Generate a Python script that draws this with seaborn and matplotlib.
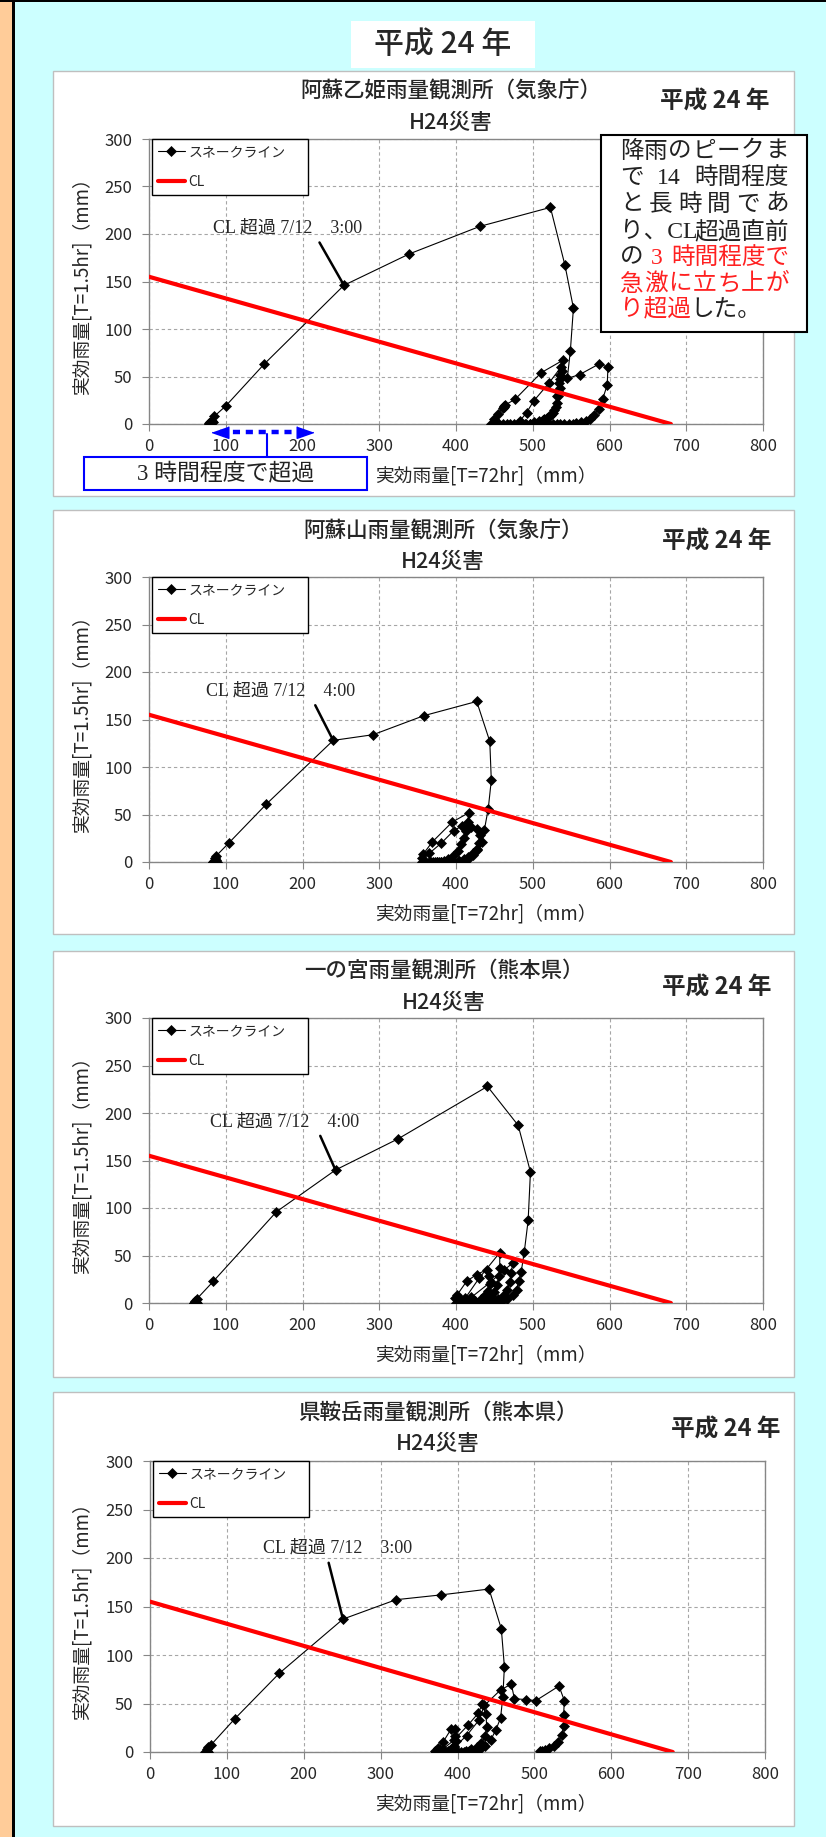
import re
import matplotlib
matplotlib.use("Agg")
import matplotlib.pyplot as plt
import seaborn as sns
from matplotlib.patches import Rectangle
from matplotlib.lines import Line2D

# ---------------- data ----------------
page_title = "平成 24 年"
event_label = "H24災害"
snake_label = "スネークライン"
cl_label = "CL"
x_label = "実効雨量[T=72hr]（mm）"
y_label = "実効雨量[T=1.5hr]（mm）"

x_ticks = [0, 100, 200, 300, 400, 500, 600, 700, 800]
y_ticks = [0, 50, 100, 150, 200, 250, 300]

# critical line, common to all stations
cl_x = [0, 680]
cl_y = [155, 0]

station_names = [
    "阿蘇乙姫雨量観測所（気象庁）",
    "阿蘇山雨量観測所（気象庁）",
    "一の宮雨量観測所（熊本県）",
    "県鞍岳雨量観測所（熊本県）",
]
exceed_notes = [
    "CL 超過 7/12\u30003:00",
    "CL 超過 7/12\u30004:00",
    "CL 超過 7/12\u30004:00",
    "CL 超過 7/12\u30003:00",
]

# snake lines: x = 72hr effective rainfall, y = 1.5hr effective rainfall (hourly, in time order)
otohime_x = [79, 78, 78, 79, 80, 81, 82, 83, 85, 100, 150, 254, 339, 431, 523, 542, 553, 549, 545,
             561, 586, 598, 597, 591, 586, 580, 575, 569, 563, 557, 552, 547,
             541, 536, 531, 526, 521, 516, 511, 506, 501, 496, 491, 486, 481, 476, 471, 466, 461, 456, 451, 447, 445,
             449, 455, 461, 463, 462, 464, 477, 511, 539, 538, 536, 535, 533, 531, 528, 524, 519, 514, 508, 502,
             496, 490, 485, 481,
             483, 492, 501, 521, 537, 536, 534, 533, 532, 530, 526, 521, 515, 508, 501]
otohime_y = [0, 0, 1, 1, 2, 1, 3, 2, 8, 19, 63, 146, 179, 208, 228, 167, 122, 77, 48,
             52, 63, 60, 41, 26, 16, 10, 5, 3, 2, 1, 0.5, 0.3,
             0, 0, 0, 0, 0, 0, 0, 0, 0, 0, 0, 0, 0, 0, 0, 0, 0, 0, 0, 0, 0,
             5, 11, 17, 19, 18, 20, 26, 54, 67, 56, 47, 38, 30, 22, 15, 10, 6, 4, 2, 1,
             0.5, 0.3, 0, 0,
             3, 12, 24, 43, 60, 52, 43, 35, 29, 18, 12, 8, 5, 3, 2]

asosan_x = [84, 83, 85, 86, 87, 88, 86, 87, 104, 153, 240, 292, 358, 427, 444, 446, 442, 437, 434, 428, 422,
            416, 410, 404, 398, 392, 386, 380, 375, 370, 365, 360, 356,
            356, 357, 369, 395, 417, 415, 413, 410, 407, 402, 396, 390, 384, 378, 373, 368,
            365, 381, 397, 408, 419, 427, 431, 430, 427, 422, 416, 410, 404, 398, 392, 386, 380, 375]
asosan_y = [0, 0, 1, 0, 2, 0, 4, 6, 20, 61, 128, 134, 154, 169, 127, 86, 56, 34, 21, 13, 7,
            3.5, 2, 1, 0.5, 0.3, 0, 0, 0, 0, 0, 0, 0,
            4, 8, 21, 42, 52, 42, 33, 25, 19, 12, 6, 3, 1.5, 0.5, 0, 0,
            9, 20, 33, 38, 37, 35, 28, 20, 14, 9, 5, 3, 1.5, 0.5, 0, 0, 0, 0]

ichinomiya_x = [58, 59, 60, 61, 62, 60, 62, 84, 166, 243, 325, 441, 481, 497, 494, 489, 485, 482, 479, 474,
                467, 460, 453, 446, 439, 432, 426, 420, 414, 408, 403, 400,
                399, 401, 414, 427, 440, 443, 444, 442, 438, 432, 425, 418, 412, 407, 404,
                405, 412, 430, 457, 457, 456, 454, 450, 445, 438, 431, 424, 418, 413,
                420, 445, 463, 474, 472, 470, 467, 462, 455, 448, 441, 434, 428]
ichinomiya_y = [0, 0, 0.5, 1, 0, 2, 4, 23, 96, 140, 173, 228, 187, 138, 87, 54, 33, 23, 14, 8,
                4, 2, 1, 0.5, 0.3, 0, 0, 0, 0, 0, 0, 0,
                5, 8, 23, 30, 35, 28, 20, 13, 8, 4, 2, 1, 0.5, 0, 0,
                4, 5, 26, 53, 37, 28, 19, 12, 7, 3.5, 1.5, 0.5, 0, 0,
                6, 22, 35, 42, 32, 22, 14, 8, 4, 2, 1, 0.3, 0]

kuradake_x = [72, 73, 74, 75, 74, 76, 79, 110, 168, 251, 320, 379, 441, 457, 461, 459, 456, 450, 443, 436,
              429, 422, 415, 408, 401, 394, 388, 382, 377, 372,
              371, 375, 381, 392, 397, 397, 398, 396, 392, 387, 382, 378,
              381, 395, 414, 427, 432, 437, 438, 436, 431, 425, 418, 411, 404, 398, 393,
              396, 412, 428, 435, 456, 470, 474, 489, 502, 532, 539, 538, 538, 536, 531, 525, 519, 514, 510, 507]
kuradake_y = [0, 0, 1, 0, 3, 5, 7, 34, 81, 137, 157, 162, 168, 127, 88, 57, 35, 23, 12, 6,
              3, 1.5, 1, 0.5, 0.3, 0, 0, 0, 0, 0,
              1, 4, 10, 24, 24, 17, 11, 6, 3, 1.5, 0.5, 0,
              3, 12, 28, 40, 49, 39, 26, 16, 9, 5, 3, 1.5, 0.5, 0, 0,
              5, 17, 33, 48, 64, 70, 55, 54, 53, 68, 53, 38, 27, 18, 10, 6, 4, 2.5, 1.5, 1]

# rise before exceedance at 阿蘇乙姫 (72hr rainfall range)
rise_span = (82, 214)
rise_caption = "3 時間程度で超過"

# commentary box; text in {braces} is highlighted in red
note_text = [
    "降雨のピークま",
    "で 14 時間程度",
    "と 長 時 間 で あ",
    "り、CL 超過直前",
    "の {3} {時間程度で}",
    "{急激に立ち上が}",
    "{り超過}した。",
]

# ---------------- style ----------------
sns.set_style("white")
plt.rcParams["font.family"] = ["Noto Sans CJK JP", "DejaVu Sans"]
plt.rcParams["axes.unicode_minus"] = False
SERIF = ["Liberation Serif", "Noto Sans CJK JP"]

W, H = 826, 1837
fig = plt.figure(figsize=(W / 100, H / 100), dpi=100)
fig.patch.set_facecolor("#CCFFFF")


def fx(x):
    return x / W


def fy(y):
    return 1 - y / H


def page_box(x0, y0, x1, y1, **kw):
    r = Rectangle((fx(x0), fy(y1)), (x1 - x0) / W, (y1 - y0) / H,
                  transform=fig.transFigure, **kw)
    fig.add_artist(r)
    return r


# page frame
page_box(0, 2, 12, H, facecolor="#FFCC99", edgecolor="none", zorder=-20)
page_box(12, 0, 15, H, facecolor="black", edgecolor="none", zorder=-19)
page_box(0, 0, W, 2, facecolor="black", edgecolor="none", zorder=-19)
page_box(351, 21, 535, 68, facecolor="white", edgecolor="none", zorder=-18)
fig.text(fx(443), fy(45), page_title, ha="center", va="center", fontsize=21.5, fontweight="medium")

layout = [
    dict(box=(53, 71, 794, 496), axes=(149, 139, 763, 424), title_x=451, year_x=715, year_dy=31,
         note_xy=(181, 206), note_rel=0.69),
    dict(box=(53, 510, 794, 934), axes=(149, 577, 763, 862), title_x=443, year_x=717, year_dy=32,
         note_xy=(172, 180), note_rel=0.71),
    dict(box=(53, 951, 794, 1377), axes=(149, 1018, 763, 1303), title_x=444, year_x=717, year_dy=37,
         note_xy=(177, 191), note_rel=0.72),
    dict(box=(53, 1392, 794, 1826), axes=(150, 1461, 765, 1752), title_x=438, year_x=726, year_dy=38,
         note_xy=(244, 210), note_rel=0.43),
]

series = [(otohime_x, otohime_y), (asosan_x, asosan_y),
          (ichinomiya_x, ichinomiya_y), (kuradake_x, kuradake_y)]


def cl_value(x):
    return cl_y[0] + (cl_y[1] - cl_y[0]) * (x - cl_x[0]) / (cl_x[1] - cl_x[0])


axes_list = []
for lay, name, note, (sx, sy) in zip(layout, station_names, exceed_notes, series):
    bx0, by0, bx1, by1 = lay["box"]
    page_box(bx0, by0, bx1, by1, facecolor="white", edgecolor="#BFBFBF", lw=1, zorder=-10)
    l, t, r, b = lay["axes"]
    aw, ah = r - l, b - t
    ax = fig.add_axes([fx(l), fy(b), aw / W, ah / H])
    axes_list.append(ax)

    sns.lineplot(x=sx, y=sy, sort=False, estimator=None, ax=ax, color="black",
                 linewidth=0.8, marker="D", markersize=5, markeredgecolor="black",
                 markeredgewidth=0.5, label=snake_label, zorder=3)
    sns.lineplot(x=cl_x, y=cl_y, ax=ax, color="#FF0000", linewidth=3,
                 label=cl_label, zorder=4)

    ax.set_xlim(0, 800)
    ax.set_ylim(0, 300)
    ax.set_xticks(x_ticks)
    ax.set_yticks(y_ticks)
    ax.grid(True, color="#A6A6A6", linestyle=(0, (3, 2.5)), linewidth=0.8)
    ax.set_axisbelow(True)
    for s in ax.spines.values():
        s.set_color("#868686")
        s.set_linewidth(1)
    ax.tick_params(axis="both", direction="out", length=5, width=0.8, color="#868686",
                   labelsize=12, bottom=True, left=True)
    ax.tick_params(axis="x", pad=5)
    ax.tick_params(axis="y", pad=7)
    ax.set_xlabel(x_label, fontsize=13.5, va="center")
    ax.xaxis.set_label_coords((486 - l) / aw, -52 / ah)
    ax.set_ylabel(y_label, fontsize=13.5, va="center")
    ax.yaxis.set_label_coords((82 - l) / aw, 0.5)

    leg = ax.legend(loc="upper left", bbox_to_anchor=(3 / aw, 0, 156 / aw, 1.0),
                    mode="expand", borderaxespad=0,
                    fancybox=False, framealpha=1, edgecolor="black", fontsize=10,
                    handlelength=1.9, handletextpad=0.25, labelspacing=1.15, borderpad=0.45)
    leg.get_frame().set_linewidth(1.0)

    # first hour above the critical line
    k = next(i for i, (xv, yv) in enumerate(zip(sx, sy)) if yv > cl_value(xv))
    ax.annotate(note, xy=(sx[k], sy[k]), xytext=lay["note_xy"], textcoords="data",
                ha="center", va="center", fontsize=13, family=SERIF, zorder=5,
                arrowprops=dict(arrowstyle="-", color="black", lw=1.8,
                                relpos=(lay["note_rel"], 0.0), shrinkA=2, shrinkB=0))

    fig.text(fx(lay["title_x"]), fy(by0 + 21), name, ha="center", va="center",
             fontsize=15.5, fontweight="medium")
    fig.text(fx(lay["title_x"]), fy(by0 + 52), event_label, ha="center", va="center",
             fontsize=15.5, fontweight="medium")
    fig.text(fx(lay["year_x"]), fy(by0 + lay["year_dy"]), page_title, ha="center", va="center",
             fontsize=17, fontweight="bold")

# ---- 3-hour rise marker on the first chart ----
ax1 = axes_list[0]
blue = "#0000FF"
a0, a1 = rise_span
px_per_unit = (763 - 149) / 800.0
head = 8.35 / px_per_unit
ya = -8.5
ax1.plot([a0 + head, a1 - head], [ya, ya], color=blue, lw=3.2, linestyle=(0, (1.6, 1.3)),
         clip_on=False, solid_capstyle="butt", zorder=6)
ax1.plot([a0 + head], [ya], marker=[(-1, 0), (1, -0.7), (1, 0.7)], ms=12, color=blue,
         linestyle="none", clip_on=False, zorder=6)
ax1.plot([a1 - head], [ya], marker=[(1, 0), (-1, -0.7), (-1, 0.7)], ms=12, color=blue,
         linestyle="none", clip_on=False, zorder=6)
fig.add_artist(Line2D([fx(267), fx(267)], [fy(434), fy(457)], color=blue, lw=1.5,
                      transform=fig.transFigure, zorder=6))
page_box(84, 457, 367, 490, facecolor="white", edgecolor=blue, lw=1.5, zorder=6)
fig.text(fx(226), fy(473.5), rise_caption, ha="center", va="center", fontsize=16.5,
         family=SERIF, color="#222222", zorder=7)

# ---- commentary box, justified lines ----
page_box(601, 135, 807, 332, facecolor="white", edgecolor="black", lw=1.5, zorder=6)
renderer = fig.canvas.get_renderer()
colors = {"k": "#222222", "r": "#FF2020"}
line_y = [152, 178, 205, 232, 258, 285, 310]
tx0, tx1 = 620, 789
NOTE_SIZE = 17


def parse_runs(line):
    runs = []
    for m in re.finditer(r"\{([^}]*)\}|([^{}]+)", line):
        if m.group(1) is not None:
            runs.append((m.group(1), "r"))
        else:
            runs.append((m.group(2), "k"))
    return runs


def split_words(runs, per_char):
    words = [[]]
    for text, c in runs:
        for ch in text:
            if ch == " ":
                if words[-1]:
                    words.append([])
                continue
            if per_char and words[-1]:
                words.append([])
            w = words[-1]
            if w and w[-1][1] == c:
                w[-1] = (w[-1][0] + ch, c)
            else:
                w.append((ch, c))
    return [w for w in words if w]


for n, (line, yline) in enumerate(zip(note_text, line_y)):
    runs = parse_runs(line)
    last = n == len(note_text) - 1
    plain = "".join(t for t, _ in runs)
    words = split_words(runs, per_char=(not last and " " not in plain))
    placed = []
    for w in words:
        arts = [fig.text(0, fy(yline), t, color=colors[c], fontsize=NOTE_SIZE, family=SERIF,
                         ha="left", va="center", zorder=7) for t, c in w]
        ws = [a.get_window_extent(renderer).width for a in arts]
        placed.append((arts, ws))
    total = sum(sum(ws) for _, ws in placed)
    gap = 0 if last or len(placed) < 2 else (tx1 - tx0 - total) / (len(placed) - 1)
    xpos = tx0
    for arts, ws in placed:
        for a, wd in zip(arts, ws):
            a.set_x(fx(xpos))
            xpos += wd
        xpos += gap

fig.savefig("out.png", dpi=100, facecolor=fig.get_facecolor())
